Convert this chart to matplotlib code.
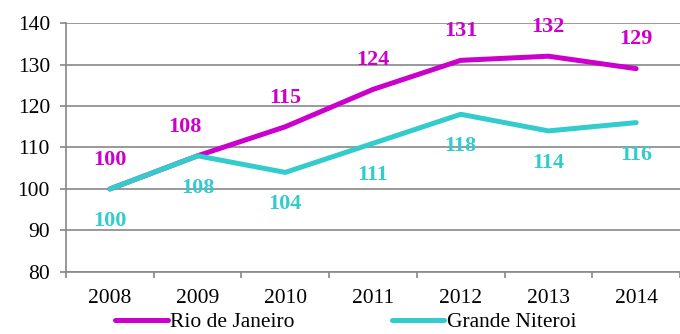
import numpy as np
import matplotlib.pyplot as plt

plt.rcParams['font.family'] = ['Liberation Serif', 'DejaVu Serif']

# index values (2008 = 100)
years = ['2008', '2009', '2010', '2011', '2012', '2013', '2014']
rio = [100, 108, 115, 124, 131, 132, 129]
niteroi = [100, 108, 104, 111, 118, 114, 116]

rio_color = '#CC00CC'
nit_color = '#33CCCC'
grid_color = '#888888'

fig = plt.figure(figsize=(6.8, 3.34), dpi=100)
ax = fig.add_axes([66 / 680, 62 / 334, 614 / 680, 249 / 334])

x = np.arange(len(years))
ax.plot(x, rio, color=rio_color, lw=3.6, solid_capstyle='round', label='Rio de Janeiro')
ax.plot(x, niteroi, color=nit_color, lw=3.6, solid_capstyle='round', label='Grande Niteroi')

# value labels: Rio above the line, Niteroi below
for i, v in enumerate(rio):
    dx = -9 if i == 1 else 0
    ax.annotate(str(v), (x[i], v), xytext=(dx, 21), textcoords='offset points',
                ha='center', va='center', color=rio_color, fontsize=16, fontweight='bold')
for i, v in enumerate(niteroi):
    ax.annotate(str(v), (x[i], v), xytext=(0, -23), textcoords='offset points',
                ha='center', va='center', color=nit_color, fontsize=16, fontweight='bold')

ax.set_xlim(-0.5, (680 - 110) / 88.3)
ax.set_ylim(80, 140)
ax.set_yticks(range(80, 141, 10))
ax.set_xticks(x)
ax.set_xticklabels(years)
ax.set_xticks(np.arange(-0.5, 7, 1), minor=True)

ax.grid(axis='y', color=grid_color, lw=1.2)
ax.set_axisbelow(True)
for s in ['top', 'right']:
    ax.spines[s].set_visible(False)
for s in ['left', 'bottom']:
    ax.spines[s].set_color(grid_color)
    ax.spines[s].set_linewidth(1.2)

ax.tick_params(axis='y', length=4.5, width=1.2, color=grid_color, pad=7, labelsize=15.5)
ax.tick_params(axis='x', which='major', length=0, pad=12, labelsize=15.5)
ax.tick_params(axis='x', which='minor', length=4.5, width=1.2, color=grid_color)

fig.legend(loc='center left', bbox_to_anchor=(115 / 680, 0.035), ncol=2, frameon=False,
           fontsize=15.5, handlelength=2.45, handletextpad=0.12, columnspacing=4.5,
           borderpad=0, borderaxespad=0)

fig.savefig('out.png', dpi=100)
